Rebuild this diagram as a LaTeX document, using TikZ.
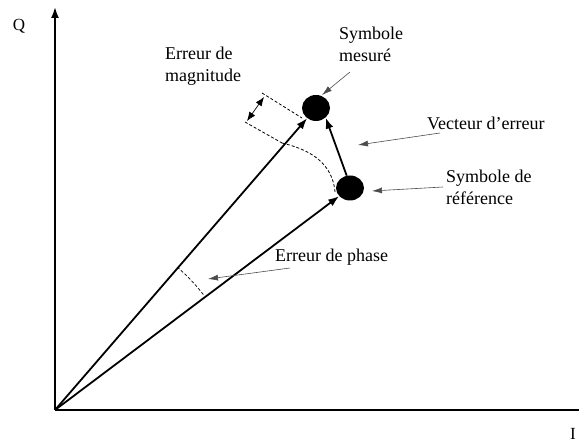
\documentclass[tikz,border=0pt]{standalone}
\usepackage{fontspec}
\setmainfont{Liberation Serif}
\usetikzlibrary{arrows.meta,shapes.geometric,calc}
\begin{document}
\begin{tikzpicture}[x=1pt,y=1pt,
  vec/.style={line width=1.8pt, -{Latex[length=11pt,width=8pt]}},
  lbl/.style={font=\fontsize{18}{22}\selectfont, inner sep=0pt, align=left, anchor=west},
  ptr/.style={draw=black!70, line width=0.6pt, -{Latex[length=10pt,width=6pt]}},
  sym/.style={ellipse, fill=black, minimum width=28pt, minimum height=26pt, inner sep=0pt},
  dsh/.style={dash pattern=on 3pt off 2pt, line width=0.8pt}]
\useasboundingbox (0,0) rectangle (579,443);
% axes
\coordinate (O) at (55,33);
\coordinate (Qtop) at (55,436);
\coordinate (Iend) at (590,33);
\draw[vec] (O) -- (Qtop);
\draw[vec] (O) -- (Iend);
\node[font=\fontsize{17}{20}\selectfont, inner sep=0pt] (Qlab) at (19,417) {Q};
\node[font=\fontsize{17}{20}\selectfont, inner sep=0pt, anchor=south west] (Ilab) at (570,3) {I};
% symbols
\node[sym] (meas) at (316,335) {};
\node[sym, minimum height=25pt] (ref) at (350,255) {};
% vectors
\draw[vec] (O) -- (meas);
\draw[vec] (O) -- (ref);
\draw[vec] (ref.105) -- (meas.-45);
% magnitude error
\coordinate (m1) at (262,350);
\coordinate (m2) at (302,325);
\coordinate (m3) at (245,321);
\coordinate (m4) at (282,300);
\coordinate (a1) at (264,346);
\coordinate (a2) at (247,322);
\coordinate (arcend) at (335,251);
\draw[dsh] (m1) -- (m2);
\draw[dsh] (m3) -- (m4);
\draw[dsh] (m4) .. controls (302,295) and (332,285) .. (arcend);
\draw[line width=0.7pt, {Latex[length=9pt,width=7pt]}-{Latex[length=9pt,width=7pt]}] (a1) -- (a2);
% phase error arc
\coordinate (ph) at ($(O)+(49.5:188pt)$);
\draw[dsh, line width=0.7pt] (ph) arc[start angle=49.5, end angle=37.5, radius=188pt];
% labels
\node[lbl] (lmes) at (339,399) {Symbole\\mesuré};
\node[lbl] (lmag) at (165,377) {Erreur de\\magnitude};
\node[lbl] (lvec) at (427,320) {Vecteur d’erreur};
\node[lbl] (lref) at (446,256) {Symbole de\\référence};
\node[lbl] (lpha) at (275,186) {Erreur de phase};
% pointers
\coordinate (p1s) at (350,371); \coordinate (p1e) at (322,348);
\coordinate (p2s) at (440,310); \coordinate (p2e) at (358,298);
\coordinate (p3s) at (443,256); \coordinate (p3e) at (372,252);
\coordinate (p4s) at (290,175); \coordinate (p4e) at (208,164);
\draw[ptr] (p1s) -- (p1e);
\draw[ptr] (p2s) -- (p2e);
\draw[ptr] (p3s) -- (p3e);
\draw[ptr] (p4s) -- (p4e);
\end{tikzpicture}
\end{document}
